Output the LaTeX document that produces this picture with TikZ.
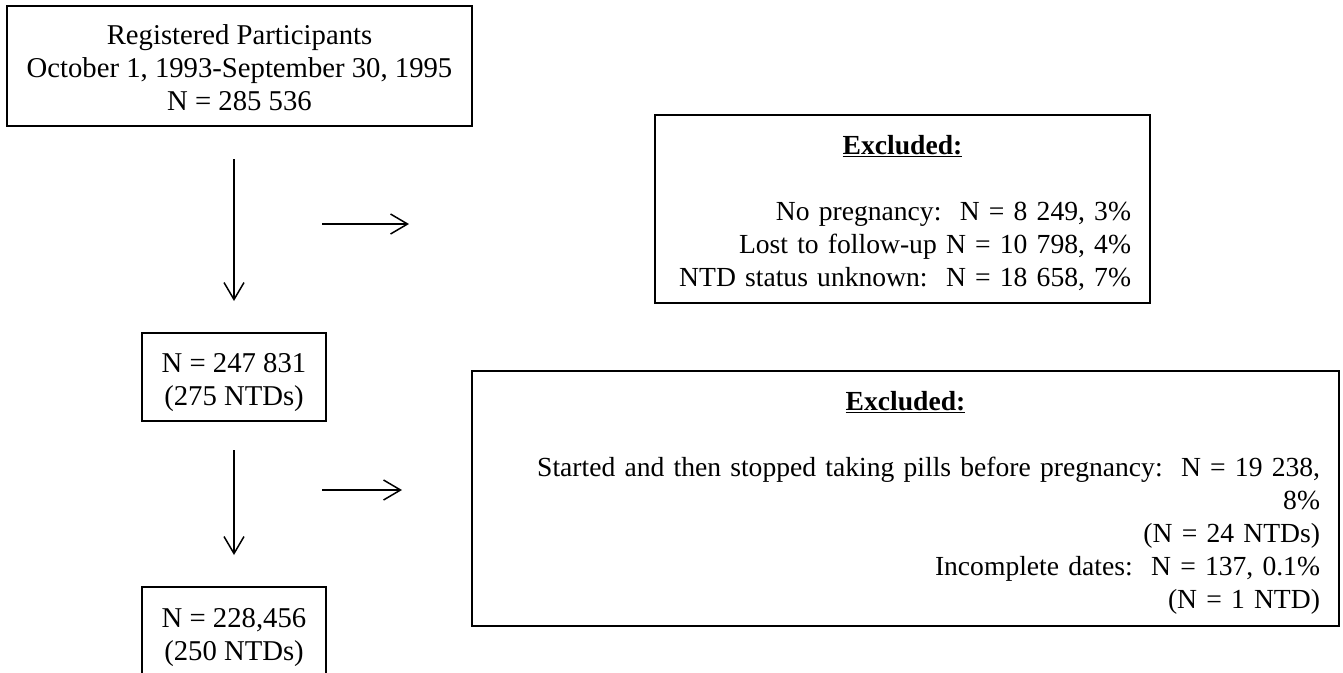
\documentclass[tikz,border=0pt]{standalone}
\usepackage{fontspec}
\setmainfont{Liberation Serif}
\usetikzlibrary{arrows.meta}
\newcommand{\downby}[1]{\rule{0pt}{\dimexpr 0.69em+#1\relax}}
\begin{document}
\begin{tikzpicture}[x=1pt,y=-1pt,
  txt/.style={font=\fontsize{28.7}{33}\selectfont},
  extxt/.style={font=\fontsize{27.6}{33}\selectfont},
  box/.style={txt, draw, line width=2pt, rectangle, inner sep=0pt, align=center},
  exbox/.style={extxt, draw, line width=2pt, rectangle, inner xsep=19pt, inner ysep=0pt, align=right},
  flow/.style={line width=1.5pt, -{Straight Barb[length=17pt,width=20pt,line width=1.5pt]}}]
\useasboundingbox (0,0) rectangle (1343,672);
\node[box, minimum width=465pt, minimum height=120pt] (reg) at (239.5,66)
  {\downby{3pt}Registered Participants\\October 1, 1993-September 30, 1995\\N = 285 536};
\node[box, minimum width=184pt, minimum height=88pt] (n1) at (234,377)
  {\downby{10pt}N = 247 831\\(275 NTDs)};
\node[box, minimum width=184pt, minimum height=90pt] (n2) at (234,632)
  {\downby{10pt}N = 228,456\\(250 NTDs)};
\node[exbox, text width=457pt, minimum height=188pt] (ex1) at (902.5,209)
  {\downby{8pt}\makebox[\hsize]{\underline{\textbf{Excluded:}}}\\[33pt]
   No pregnancy:\ \ N = 8 249, 3\%\\
   Lost to follow-up N = 10 798, 4\%\\
   NTD status unknown:\ \ N = 18 658, 7\%};
\node[exbox, text width=829pt, minimum height=255pt] (ex2) at (905.5,498.5)
  {\downby{8pt}\makebox[\hsize]{\underline{\textbf{Excluded:}}}\\[33pt]
   Started and then stopped taking pills before pregnancy:\ \ N = 19 238,\\
   8\%\\
   (N = 24 NTDs)\\
   Incomplete dates:\ \ N = 137, 0.1\%\\
   (N = 1 NTD)};
\coordinate (r1s) at (322,224);
\coordinate (r1e) at (409,224);
\coordinate (r2s) at (322,490);
\coordinate (r2e) at (402,490);
\draw[flow, shorten <=32pt, shorten >=31pt] (n1.north |- reg.south) -- (n1.north);
\draw[flow, shorten <=28pt, shorten >=31pt] (n1.south) -- (n2.north);
\draw[flow] (r1s) -- (r1e);
\draw[flow] (r2s) -- (r2e);
\end{tikzpicture}
\end{document}
